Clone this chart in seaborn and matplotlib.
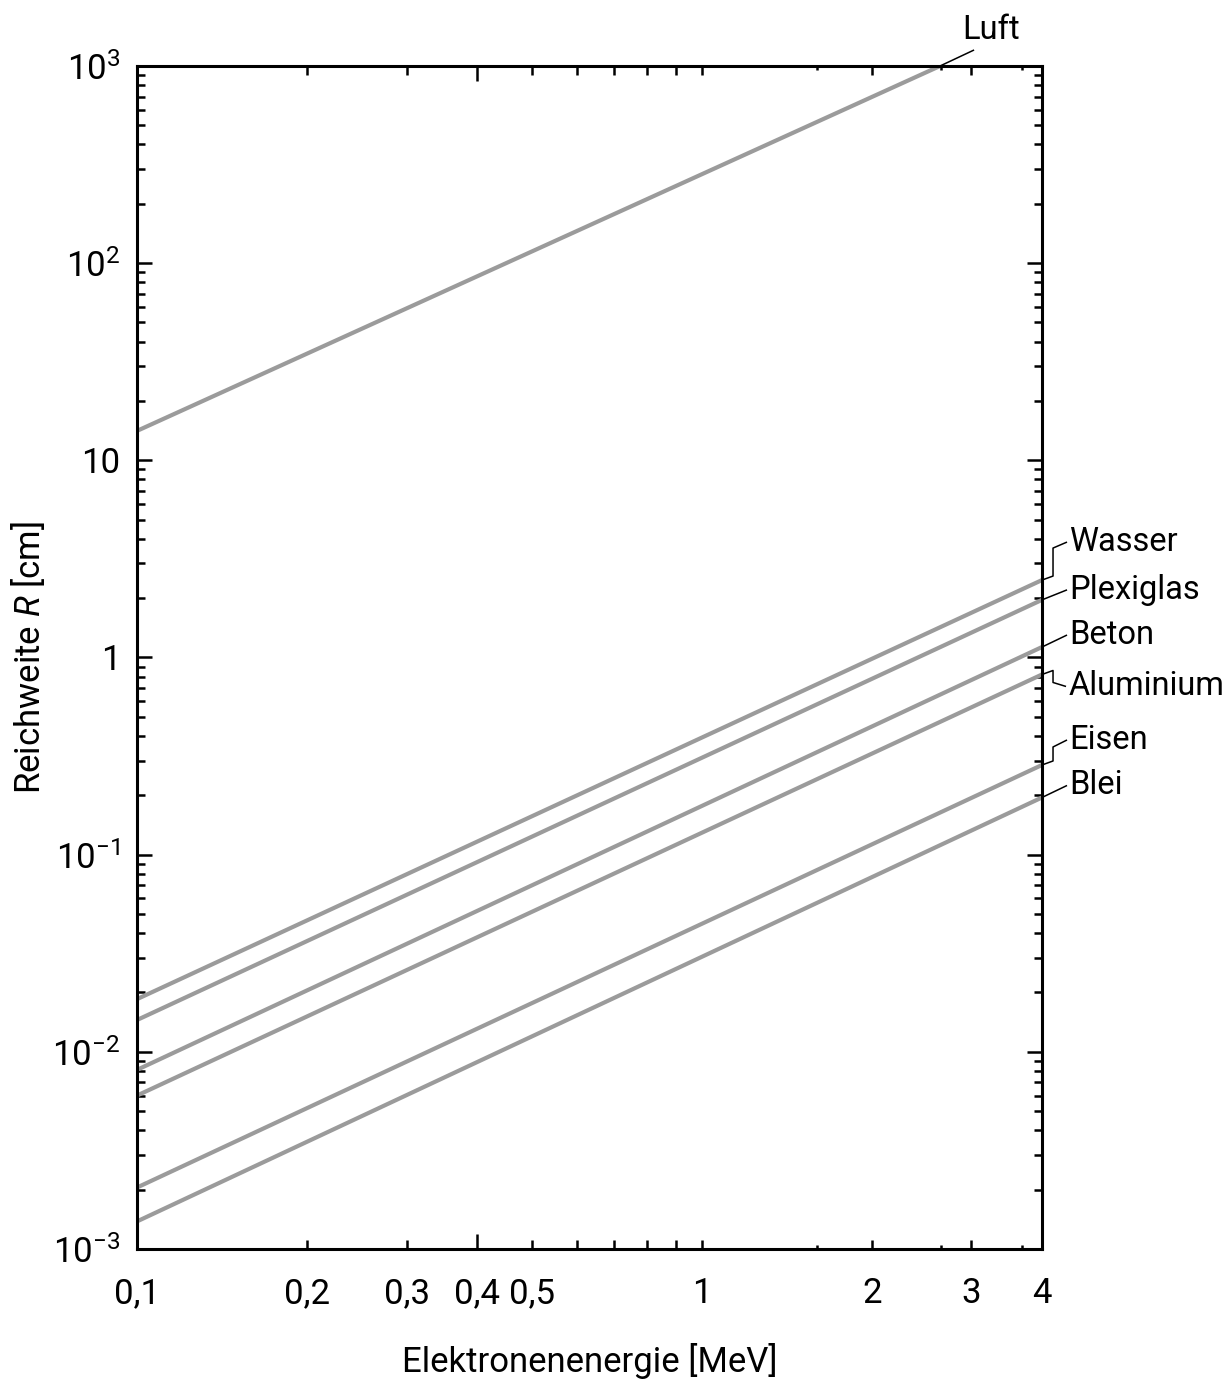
import matplotlib
matplotlib.use("Agg")
import matplotlib.pyplot as plt
import seaborn as sns
import pandas as pd
import numpy as np
from matplotlib.ticker import FixedLocator, FixedFormatter, NullFormatter, LogLocator

# --- Data ---
materials = ["Luft", "Wasser", "Plexiglas", "Beton", "Aluminium", "Eisen", "Blei"]
energy_start = [0.1, 0.1, 0.1, 0.1, 0.1, 0.1, 0.1]
energy_end = [2.64, 4, 4, 4, 4, 4, 4]
range_start = [14.1, 0.0185, 0.0145, 0.0081, 0.0060, 0.00205, 0.00138]
range_end = [1000, 2.47, 1.96, 1.13, 0.82, 0.285, 0.195]

x_ticks = [0.1, 0.2, 0.3, 0.4, 0.5, 0.6, 0.7, 0.8, 0.9, 1, 2, 3, 4]
x_ticklabels = ["0,1", "0,2", "0,3", "0,4", "0,5", "", "", "", "", "1", "2", "3", "4"]
x_minor = [1.6, 2.65, 3.68]
y_ticks = [1e-3, 1e-2, 1e-1, 1, 10, 1e2, 1e3]
y_ticklabels = [r"$10^{-3}$", r"$10^{-2}$", r"$10^{-1}$", "1", "10", r"$10^{2}$", r"$10^{3}$"]

# leader lines: pixel offsets from the end of each curve (right, down)
leaders = {
    "Luft": [(0, 0), (34, -16)],
    "Wasser": [(0, 0), (11, -4), (11, -32), (25, -38)],
    "Plexiglas": [(0, 0), (25, -10)],
    "Beton": [(0, 0), (25, -12)],
    "Aluminium": [(0, 0), (11, -4), (11, 8), (24, 12)],
    "Eisen": [(0, 0), (11, -4), (11, -18), (25, -25)],
    "Blei": [(0, 0), (25, -12)],
}

rows = []
for m, e0, e1, r0, r1 in zip(materials, energy_start, energy_end, range_start, range_end):
    rows.append({"Material": m, "E": e0, "R": r0})
    rows.append({"Material": m, "E": e1, "R": r1})
df = pd.DataFrame(rows)

# --- Plot ---
sns.set_style("ticks")
plt.rcParams["font.family"] = ["Roboto", "DejaVu Sans"]
plt.rcParams["mathtext.fontset"] = "custom"
plt.rcParams["mathtext.rm"] = "Roboto"
plt.rcParams["mathtext.it"] = "Roboto:italic"
plt.rcParams["text.color"] = "black"
plt.rcParams["axes.labelcolor"] = "black"
plt.rcParams["xtick.color"] = "black"
plt.rcParams["ytick.color"] = "black"

FS = 25
FS_LABEL = 23.5

fig = plt.figure(figsize=(12.32, 13.89), dpi=100)
ax = fig.add_axes([0.1112, 0.1008, 0.7346, 0.8517])

sns.lineplot(data=df, x="E", y="R", hue="Material", palette=["#9b9b9b"] * len(materials),
             linewidth=3.0, legend=False, ax=ax, estimator=None, sort=False)

ax.set_xscale("log")
ax.set_yscale("log")
ax.set_xlim(0.1, 4)
ax.set_ylim(1e-3, 1e3)

ax.xaxis.set_major_locator(FixedLocator(x_ticks))
ax.xaxis.set_major_formatter(FixedFormatter(x_ticklabels))
ax.xaxis.set_minor_locator(FixedLocator(x_minor))
ax.xaxis.set_minor_formatter(NullFormatter())
ax.yaxis.set_major_locator(FixedLocator(y_ticks))
ax.yaxis.set_major_formatter(FixedFormatter(y_ticklabels))
ax.yaxis.set_minor_locator(LogLocator(base=10, subs=np.arange(2, 10)))
ax.yaxis.set_minor_formatter(NullFormatter())

for s in ax.spines.values():
    s.set_linewidth(2.2)
    s.set_color("black")
    s.set_visible(True)

ax.tick_params(axis="both", which="both", direction="in", top=True, right=True,
               width=1.8, color="black", labelsize=FS, labelcolor="black")
ax.tick_params(axis="x", which="major", length=6.5, pad=20)
ax.tick_params(axis="x", which="minor", length=3)
ax.tick_params(axis="y", which="major", length=10.8, pad=12)
ax.tick_params(axis="y", which="minor", length=5.8)

# the tick at 1 MeV is longer
for t in ax.xaxis.get_major_ticks():
    if abs(t.get_loc() - 1) < 1e-9:
        t.tick1line.set_markersize(10.8)
        t.tick2line.set_markersize(10.8)

ax.set_xlabel("Elektronenenergie [MeV]", fontsize=FS, labelpad=24)
ax.set_ylabel(r"Reichweite $\mathit{R}$ [cm]", fontsize=FS, labelpad=4)

# --- Labels with leader lines ---
fig.canvas.draw()
inv = ax.transData.inverted()
for m, e1, r1 in zip(materials, energy_end, range_end):
    px, py = ax.transData.transform((e1, r1))
    pts = [inv.transform((px + dx, py - dy)) for dx, dy in leaders[m]]
    xs = [p[0] for p in pts]
    ys = [p[1] for p in pts]
    ax.plot(xs, ys, color="black", linewidth=1.1, clip_on=False, solid_capstyle="butt")
    if m == "Luft":
        tx, ty = inv.transform((px + 22, py + 20))
        ax.text(tx, ty, m, fontsize=FS_LABEL, ha="left", va="bottom", clip_on=False)
    else:
        tx, ty = inv.transform((px + 27, py - leaders[m][-1][1]))
        ax.text(tx, ty, m, fontsize=FS_LABEL, ha="left", va="center", clip_on=False)

fig.savefig("out.png", dpi=100)
